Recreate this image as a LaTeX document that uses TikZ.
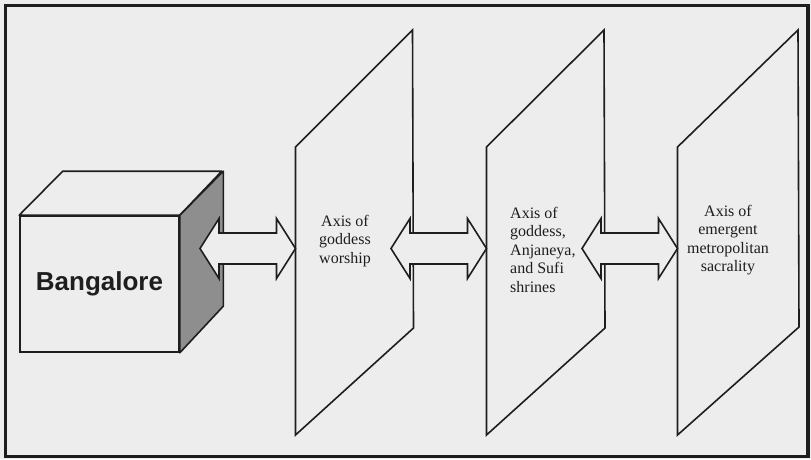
\documentclass[tikz,border=0pt]{standalone}
\usepackage{fontspec}
\setmainfont{Liberation Serif}
\newfontfamily\labelsans{Liberation Sans}
\usetikzlibrary{calc}
\definecolor{bg}{HTML}{EDEDED}
\definecolor{ink}{HTML}{1E1E1E}
\definecolor{sideface}{HTML}{8E8E8E}
\begin{document}
\begin{tikzpicture}[x=1pt,y=-1pt,line join=miter,
  edge/.style={draw=ink,line width=1.6pt},
  planebox/.style={edge,fill=bg},
  axislabel/.style={font=\fontsize{16}{18.5}\selectfont,text=ink,inner sep=0pt},
  blockarrow/.style={edge,fill=bg},
  pics/dblarrow/.style={code={
    \draw[blockarrow] (0,0) -- (19,-30) -- (19,-15.5) -- ({#1-19},-15.5) -- ({#1-19},-30)
      -- (#1,0) -- ({#1-19},30) -- ({#1-19},15.5) -- (19,15.5) -- (19,30) -- cycle;}}]
\fill[bg] (0,0) rectangle (811,459);
\useasboundingbox (0,0) rectangle (811,459);
\draw[ink,line width=3.5pt] (5.3,5.3) rectangle (808,456.7);

% cube
\node[edge,fill=bg,minimum width=159pt,minimum height=136pt,inner sep=0pt,
      font=\labelsans\bfseries\fontsize{26}{30}\selectfont,text=ink] (city) at (99.5,284) {Bangalore};
\draw[edge,fill=bg,line join=round] (city.north west) -- ++(43.5,-44) -- ++(159,0) -- (city.north east) -- cycle;
\draw[edge,fill=sideface,line join=round] (city.north east) -- ++(43.5,-44) -- ++(0,135) -- (city.south east) -- cycle;

% planes
\draw[planebox] (295.5,147) -- (412.5,30) -- (413.5,328) -- (295.5,435) -- cycle;
\draw[planebox] (486.5,147) -- (604,30) -- (605,328) -- (486.5,435) -- cycle;
\draw[planebox] (677.5,147) -- (798,30) -- (799,327) -- (677.5,435) -- cycle;
\coordinate (p1w) at (295.5,248.5);
\coordinate (p2w) at (486.5,248.5);
\coordinate (p3w) at (677.5,248.5);

% labels
\node[axislabel,align=center] (t1) at (345,241) {Axis of\\goddess\\worship};
\node[axislabel,align=left,anchor=west] (t2) at (510,249.5) {Axis of\\goddess,\\Anjaneya,\\and Sufi\\shrines};
\node[axislabel,align=center] (t3) at (728,240) {Axis of\\emergent\\metropolitan\\sacrality};

% connectors
\pic at ($(p1w)+(-95.5,0)$) {dblarrow=95.5};
\pic at ($(p2w)+(-95.5,0)$) {dblarrow=95.5};
\pic at ($(p3w)+(-95.5,0)$) {dblarrow=95.5};
\end{tikzpicture}
\end{document}
